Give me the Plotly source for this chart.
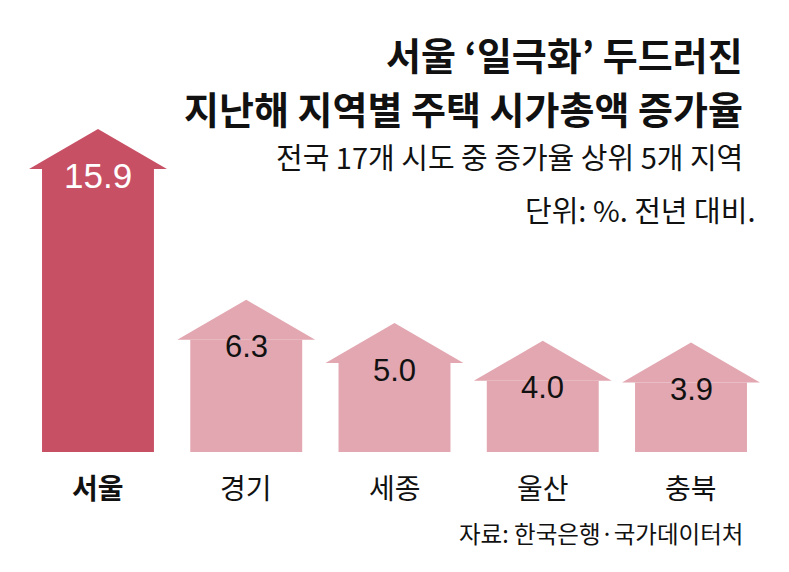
import plotly.graph_objects as go

# 지난해 지역별 주택 시가총액 증가율 (%, 전년 대비)
regions = ['서울', '경기', '세종', '울산', '충북']
growth = [15.9, 6.3, 5.0, 4.0, 3.9]
bar_colors = ['#c85065', '#e2a7b1', '#e2a7b1', '#e2a7b1', '#e2a7b1']
label_colors = ['white', '#111111', '#111111', '#111111', '#111111']

KR = 'Noto Sans CJK KR'
NUM = 'Liberation Sans'

body_w = 0.755   # width of the house body (x units)
roof_w = 0.93    # width of the roof
roof_h = 2.25    # height of the roof (y units)

xs = list(range(len(regions)))

fig = go.Figure()

# house bodies
fig.add_trace(go.Bar(
    x=xs, y=growth, width=body_w,
    marker=dict(color=bar_colors, line=dict(width=0)),
    hoverinfo='skip', showlegend=False,
))

# roofs: one triangle per bar
for i, v in enumerate(growth):
    fig.add_trace(go.Scatter(
        x=[i - roof_w / 2, i, i + roof_w / 2, i - roof_w / 2],
        y=[v, v + roof_h, v, v],
        fill='toself', fillcolor=bar_colors[i],
        mode='lines', line=dict(width=0, color=bar_colors[i]),
        hoverinfo='skip', showlegend=False,
    ))

annotations = []

# value labels
for i, v in enumerate(growth):
    annotations.append(dict(
        x=i, y=v, xref='x', yref='y', text=f'{v:.1f}',
        showarrow=False, yanchor='middle', yshift=-7,
        font=dict(family=NUM, size=35 if i == 0 else 31, color=label_colors[i]),
    ))

# region labels
for i, r in enumerate(regions):
    annotations.append(dict(
        x=i, y=0, xref='x', yref='y',
        text=f'<b>{r}</b>' if i == 0 else r,
        showarrow=False, yanchor='middle', yshift=-35,
        font=dict(family=KR, size=28, color='#111111'),
    ))

# titles
right = 745 / 789
annotations += [
    dict(x=right, y=1 - 54 / 572, xref='paper', yref='paper', xanchor='right', yanchor='middle',
         text="<b>서울 ‘일극화’ 두드러진</b>", showarrow=False,
         font=dict(family=KR, size=38, color='#111111')),
    dict(x=right, y=1 - 107 / 572, xref='paper', yref='paper', xanchor='right', yanchor='middle',
         text='<b>지난해 지역별 주택 시가총액 증가율</b>', showarrow=False,
         font=dict(family=KR, size=38, color='#111111')),
    dict(x=right, y=1 - 156 / 572, xref='paper', yref='paper', xanchor='right', yanchor='middle',
         text='전국 17개 시도 중 증가율 상위 5개 지역', showarrow=False,
         font=dict(family=KR, size=29, color='#111111')),
    dict(x=757 / 789, y=1 - 209 / 572, xref='paper', yref='paper', xanchor='right', yanchor='middle',
         text='단위: %. 전년 대비.', showarrow=False,
         font=dict(family=KR, size=29, color='#111111')),
    dict(x=right, y=1 - 533 / 572, xref='paper', yref='paper', xanchor='right', yanchor='middle',
         text='자료: 한국은행·국가데이터처', showarrow=False,
         font=dict(family=KR, size=23.5, color='#111111')),
]

fig.update_layout(
    width=789, height=572,
    margin=dict(l=0, r=0, t=0, b=0),
    paper_bgcolor='white', plot_bgcolor='white',
    xaxis=dict(range=[-0.661, 4.661], visible=False, fixedrange=True),
    yaxis=dict(range=[-6.74, 25.39], visible=False, fixedrange=True),
    annotations=annotations,
    showlegend=False,
)

fig.write_html('out.html', config={'displayModeBar': False},
               post_script="document.body.style.margin='0';")
